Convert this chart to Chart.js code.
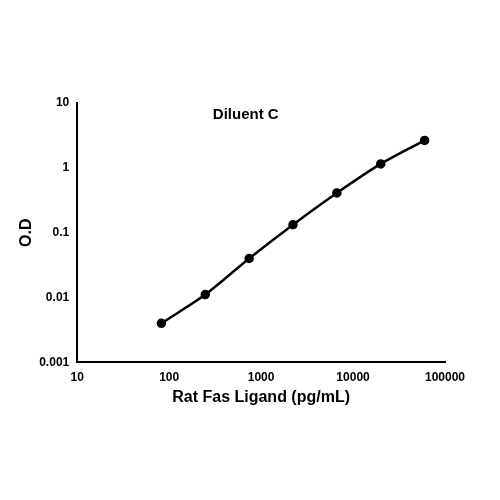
<!DOCTYPE html>
<html>
<head>
<script src="https://cdn.jsdelivr.net/npm/chart.js@4"></script>
<style>body{margin:0;background:#fff}#c{width:500px;height:500px}</style>
</head>
<body>
<div id="c"><canvas id="chart"></canvas></div>
<script>
const concentrations = [82.3, 247, 741, 2222, 6667, 20000, 60000];
const odValues = [0.0040, 0.0111, 0.040, 0.133, 0.41, 1.15, 2.65];
const xTicks = [10, 100, 1000, 10000, 100000];
const yTicks = [0.001, 0.01, 0.1, 1, 10];
const panelTitle = 'Diluent C';

const insideTitle = {
  id: 'insideTitle',
  afterDraw(chart) {
    const ctx = chart.ctx;
    ctx.save();
    ctx.font = 'bold 15px "Liberation Sans", Arial, sans-serif';
    ctx.fillStyle = '#000';
    ctx.textAlign = 'center';
    ctx.textBaseline = 'middle';
    ctx.fillText(panelTitle, chart.scales.x.getPixelForValue(680), chart.scales.y.getPixelForValue(6.6));
    ctx.restore();
  }
};

const tickFont = { family: '"Liberation Sans", Arial, sans-serif', size: 12, weight: 'bold' };
const titleFont = { family: '"Liberation Sans", Arial, sans-serif', size: 16, weight: 'bold' };

new Chart(document.getElementById('chart'), {
  type: 'line',
  data: {
    datasets: [{
      data: concentrations.map((x, i) => ({ x: x, y: odValues[i] })),
      borderColor: '#000',
      backgroundColor: '#000',
      borderWidth: 2.5,
      pointRadius: 3.5,
      tension: 0.3,
      fill: false
    }]
  },
  options: {
    responsive: true,
    maintainAspectRatio: false,
    animation: false,
    layout: { padding: { left: 17, right: 55, top: 103, bottom: 93 } },
    plugins: { legend: { display: false }, tooltip: { enabled: false } },
    scales: {
      x: {
        type: 'logarithmic', min: 10, max: 100000,
        afterBuildTicks: s => { s.ticks = xTicks.map(v => ({ value: v })); },
        ticks: { color: '#000', font: tickFont, maxRotation: 0, callback: v => String(v) },
        grid: { display: false, drawTicks: true, tickLength: 5, tickColor: '#000' },
        border: { color: '#000', width: 2 },
        title: { display: true, text: 'Rat Fas Ligand (pg/mL)', color: '#000', font: titleFont, padding: 0 }
      },
      y: {
        type: 'logarithmic', min: 0.001, max: 10,
        afterBuildTicks: s => { s.ticks = yTicks.map(v => ({ value: v })); },
        ticks: { color: '#000', font: tickFont, callback: v => String(v) },
        grid: { display: false, drawTicks: true, tickLength: 5, tickColor: '#000' },
        border: { color: '#000', width: 2 },
        title: { display: true, text: 'O.D', color: '#000', font: titleFont, padding: 0 }
      }
    }
  },
  plugins: [insideTitle]
});
</script>
</body>
</html>
